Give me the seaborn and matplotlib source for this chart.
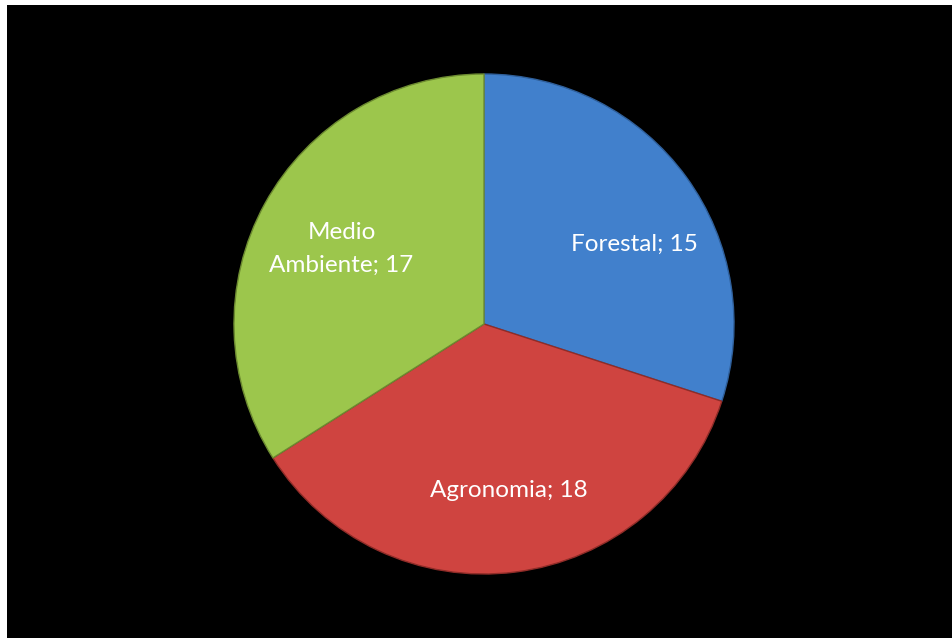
import matplotlib
matplotlib.use("Agg")
import matplotlib.pyplot as plt
import seaborn as sns

# Data
categories = ["Forestal", "Agronomia", "Medio\nAmbiente"]
values = [15, 18, 17]
colors = ["#4180cc", "#cf4440", "#9cc64c"]
edge_colors = ["#2f5f9a", "#8f2c28", "#6c8a30"]

# label anchor points (pie units), tuned to the reference
label_pos = [(0.60, 0.32), (0.10, -0.665), (-0.57, 0.30)]

sns.set_theme(style="white")
plt.rcParams['font.family'] = ['Lato', 'DejaVu Sans']

fig = plt.figure(figsize=(9.52, 6.38), dpi=100, facecolor="white")
W, H = 952, 638

# black chart area (thin white margin at top/left like the reference)
bg = fig.add_axes([7 / W, 0, 1 - 7 / W, 1 - 5 / H], zorder=0)
bg.set_facecolor("black")
bg.set_xticks([])
bg.set_yticks([])
for s in bg.spines.values():
    s.set_visible(False)

cx, cy, r = 484, 324, 250
ax = fig.add_axes([(cx - r) / W, (H - cy - r) / H, 2 * r / W, 2 * r / H], zorder=1)
ax.set_facecolor("none")

labels = [f"{c}; {v}" for c, v in zip(categories, values)]
wedges, texts = ax.pie(values, labels=labels, colors=colors, startangle=90,
                       counterclock=False, labeldistance=0.67,
                       wedgeprops=dict(linewidth=1.0),
                       textprops=dict(color="white", fontsize=17.5))
for w, ec in zip(wedges, edge_colors):
    w.set_edgecolor(ec)
for t, p in zip(texts, label_pos):
    t.set_position(p)
    t.set_ha("center")
    t.set_va("center")
    t.set_multialignment("center")
    t.set_linespacing(1.65)

ax.set_xlim(-1, 1)
ax.set_ylim(-1, 1)
ax.set_aspect("equal")
ax.axis("off")

plt.savefig("out.png", dpi=100, facecolor=fig.get_facecolor())
plt.close()
